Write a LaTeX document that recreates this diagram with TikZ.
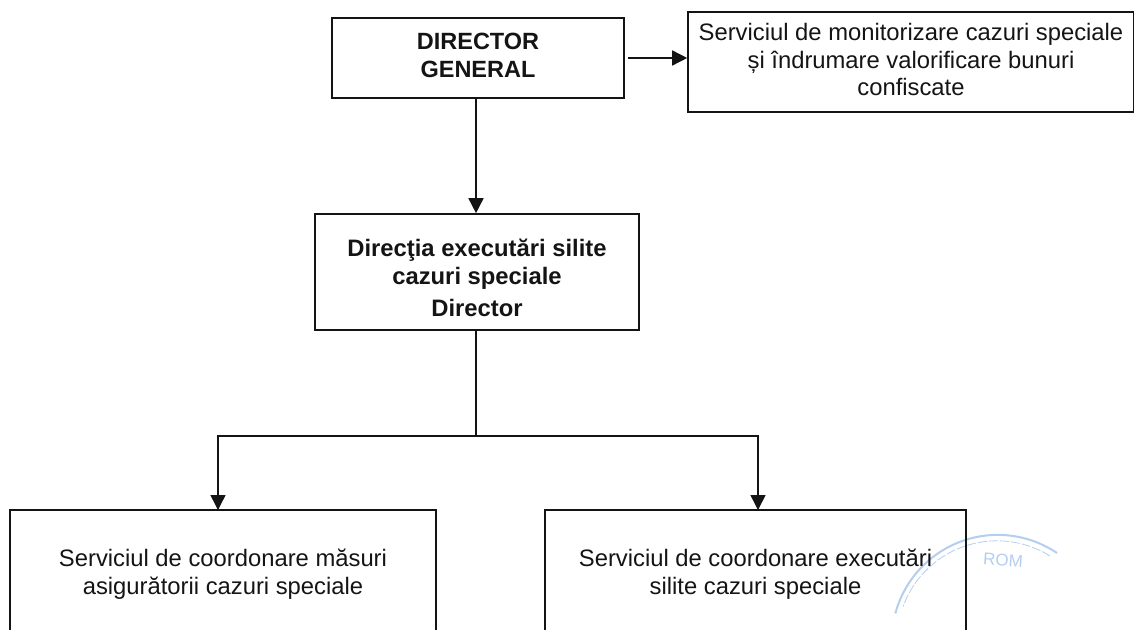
\documentclass[tikz,border=0pt]{standalone}
\usepackage{fontspec}
\setmainfont{Liberation Sans}
\usetikzlibrary{arrows.meta}
\definecolor{ink}{HTML}{141414}
\definecolor{stampblue}{HTML}{B4CEF0}
\tikzset{
  x=1pt,y=1pt,
  box/.style={draw=ink,line width=1.6pt,rectangle,inner sep=0pt,align=center,text=ink,
    font=\fontsize{23.8}{27.5}\selectfont},
  boldbox/.style={box,font=\fontsize{23.8}{28}\selectfont\bfseries},
  link/.style={draw=ink,line width=1.5pt},
  arrowlink/.style={link,-{Triangle[length=15pt,width=15pt]}},
  stamparc/.style={draw=stampblue,line width=2pt},
  stamptext/.style={text=stampblue,font=\fontsize{17}{17}\selectfont}
}
\begin{document}
\begin{tikzpicture}
\useasboundingbox (0,0) rectangle (1134,-629);
\clip (0,0) rectangle (1134,-629);
% stamp
\draw[stamparc] (1057,-553) arc[start angle=56,end angle=165,radius=106];
\draw[stamparc,line width=0.8pt,dash pattern=on 9pt off 2pt] (1050,-556) arc[start angle=58,end angle=160,radius=100];
\node[stamptext,rotate=-4] (stamp) at (1003,-560) {ROM};
% boxes
\node[boldbox,font=\fontsize{23.5}{28}\selectfont\bfseries,minimum width=292pt,minimum height=80pt] (dg) at (478,-58) {DIRECTOR\\GENERAL\rule[-6pt]{0pt}{0pt}};
\node[box,minimum width=446pt,minimum height=100pt] (mon) at (911,-62) {Serviciul de monitorizare cazuri speciale\\și îndrumare valorificare bunuri\\confiscate\rule[-5pt]{0pt}{0pt}};
\node[boldbox,minimum width=324pt,minimum height=116pt] (dir) at (477,-272) {\rule{0pt}{30pt}Direcţia executări silite\\cazuri speciale\\[4pt]Director};
\node[box,minimum width=426pt,minimum height=128pt] (a) at (223,-574) {Serviciul de coordonare măsuri\\asigurătorii cazuri speciale};
\node[box,minimum width=421pt,minimum height=128pt] (b) at (755.5,-574) {Serviciul de coordonare executări\\silite cazuri speciale};
% connectors
\coordinate (j) at (476,-436);
\coordinate (aT) at (218,-510);
\coordinate (bT) at (758,-510);
\draw[arrowlink,shorten <=3pt] (dg.east) -- (dg.east -| mon.west);
\draw[arrowlink] ([xshift=-2pt]dg.south) -- ([xshift=-1pt]dir.north);
\draw[link] ([xshift=-1pt]dir.south) -- (j);
\draw[arrowlink] (j) -| (aT);
\draw[arrowlink] (j) -| (bT);
\end{tikzpicture}
\end{document}
